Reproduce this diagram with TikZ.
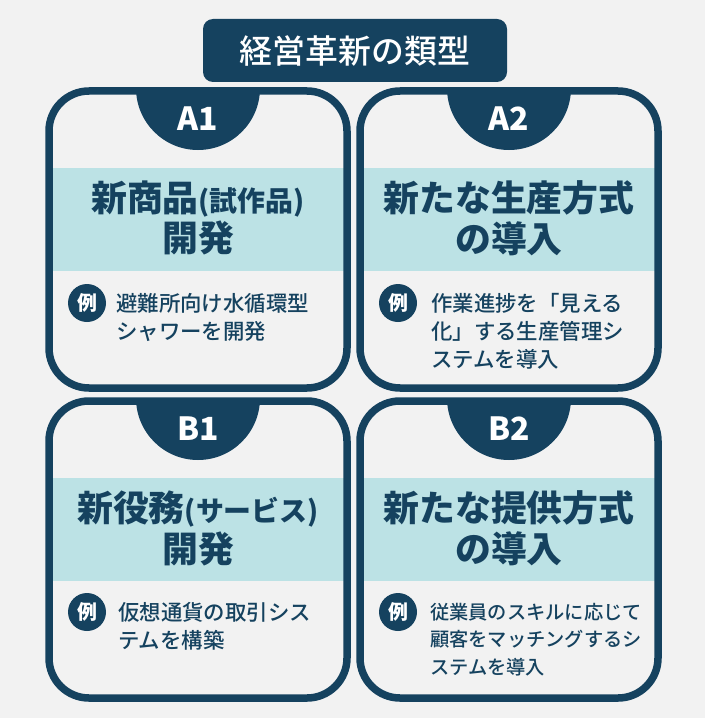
\documentclass[tikz,border=0pt]{standalone}
\usepackage{fontspec}
\setmainfont{Noto Sans CJK JP}
\newfontfamily\jpmed{Noto Sans CJK JP Medium}
\definecolor{navy}{HTML}{15425F}
\definecolor{pale}{HTML}{BCE2E5}
\definecolor{paper}{HTML}{F2F2F2}
\tikzset{
	card/.style	= {draw=navy, line width=7.5bp, rounded corners=40bp},
	band/.style	= {fill=pale},
	tab/.style	= {fill=navy},
	tabtext/.style	= {text=white, font=\bfseries\fontsize{32}{32}\selectfont},
	head/.style	= {text=navy, align=center, font=\bfseries\fontsize{36}{41}\selectfont},
	rei/.style	= {circle, fill=navy, text=white, minimum size=38bp, inner sep=0pt, font=\bfseries\fontsize{20}{20}\selectfont},
	example/.style	= {text=navy, align=left, anchor=north west, inner sep=0pt, font=\jpmed\fontsize{21.5}{28}\selectfont},
}
\newcommand{\paren}[1]{{\jpmed\fontsize{28}{41}\selectfont #1}}
\begin{document}
\begin{tikzpicture}[x=1bp, y=-1bp]
	\fill[paper] (0,0) rectangle (705,718);
	% title
	\fill[navy, rounded corners=10bp] (203,19) rectangle (507,82);
	\node (title) at (355,51)	[text=white, font=\jpmed\fontsize{33}{33}\selectfont]	{経営革新の類型};
	% A1
	\fill[tab] (136,88) arc[start angle=180, end angle=0, radius=62];
	\fill[band] (49,168) rectangle (347,271);
	\draw[card] (49,91) rectangle (347,388);
	\node (tabA1) at (198,119)	[tabtext]	{A1};
	\node (headA1) at (198,218)	[head]	{新商品\paren{(試作品)}\\開発};
	\node (reiA1) at (87,303)	[rei]	{例};
	\node (exA1) at (116,293)	[example]	{避難所向け水循環型\\シャワーを開発};
	% A2
	\fill[tab] (447,88) arc[start angle=180, end angle=0, radius=62];
	\fill[band] (360,168) rectangle (658,271);
	\draw[card] (360,91) rectangle (658,388);
	\node (tabA2) at (509,119)	[tabtext]	{A2};
	\node (headA2) at (509,218)	[head]	{新たな生産方式\\の導入};
	\node (reiA2) at (398,303)	[rei]	{例};
	\node (exA2) at (431,293)	[example]	{作業進捗を「見える\\化」する生産管理シ\\ステムを導入};
	% B1
	\fill[tab] (136,398) arc[start angle=180, end angle=0, radius=62];
	\fill[band] (49,478) rectangle (347,581);
	\draw[card] (49,401) rectangle (347,698);
	\node (tabB1) at (198,429)	[tabtext]	{B1};
	\node (headB1) at (198,528)	[head]	{新役務\paren{(サービス)}\\開発};
	\node (reiB1) at (87,612)	[rei]	{例};
	\node (exB1) at (118,602)	[example]	{仮想通貨の取引シス\\テムを構築};
	% B2
	\fill[tab] (447,398) arc[start angle=180, end angle=0, radius=62];
	\fill[band] (360,478) rectangle (658,581);
	\draw[card] (360,401) rectangle (658,698);
	\node (tabB2) at (509,429)	[tabtext]	{B2};
	\node (headB2) at (509,528)	[head]	{新たな提供方式\\の導入};
	\node (reiB2) at (398,612)	[rei]	{例};
	\node (exB2) at (430,603)	[example, font=\jpmed\fontsize{19.3}{27.5}\selectfont]	{従業員のスキルに応じて\\顧客をマッチングするシ\\ステムを導入};
\end{tikzpicture}
\end{document}
